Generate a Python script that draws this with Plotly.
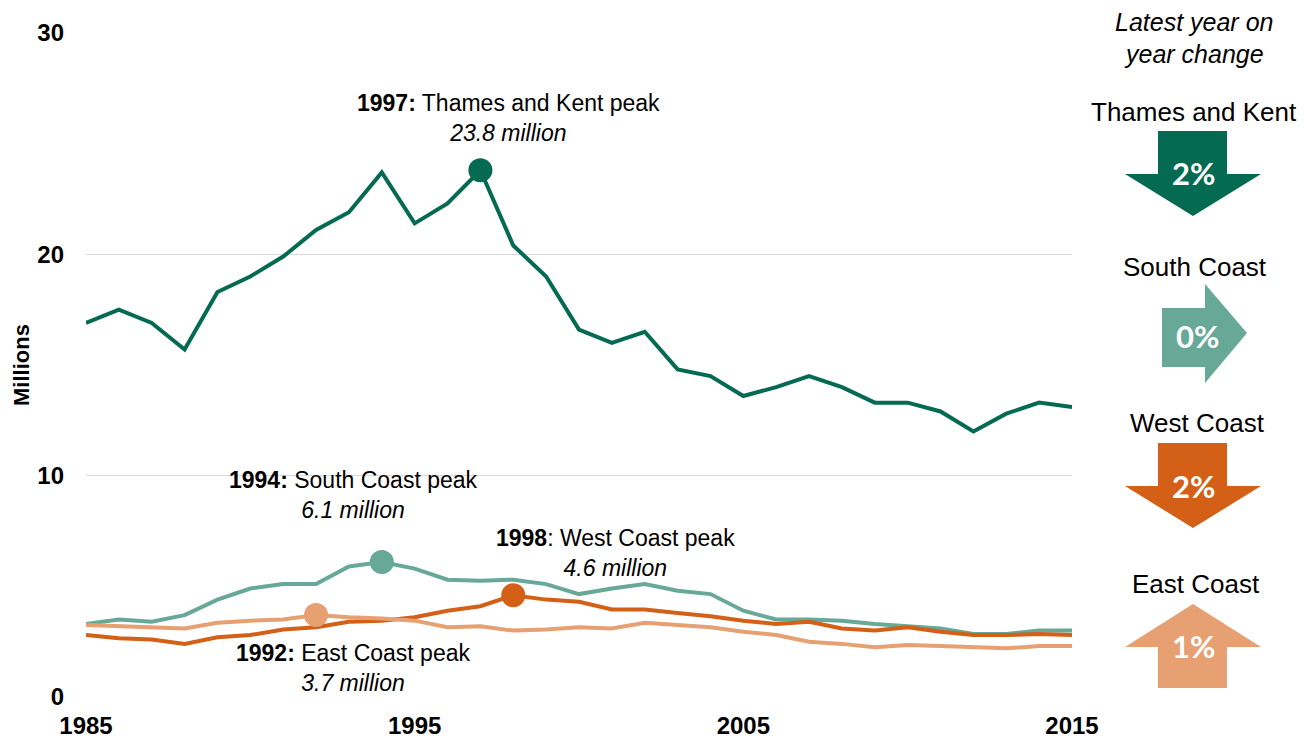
import plotly.graph_objects as go

years = list(range(1985, 2016))

thames_kent = [16.9, 17.5, 16.9, 15.7, 18.3, 19.0, 19.9, 21.1, 21.9, 23.7, 21.4, 22.3, 23.8,
               20.4, 19.0, 16.6, 16.0, 16.5, 14.8, 14.5, 13.6, 14.0, 14.5, 14.0, 13.3, 13.3,
               12.9, 12.0, 12.8, 13.3, 13.1]
south_coast = [3.3, 3.5, 3.4, 3.7, 4.4, 4.9, 5.1, 5.1, 5.9, 6.1, 5.8, 5.3, 5.25, 5.3, 5.1, 4.65,
               4.9, 5.1, 4.8, 4.65, 3.9, 3.5, 3.5, 3.45, 3.3, 3.2, 3.1, 2.85, 2.85, 3.0, 3.0]
west_coast = [2.8, 2.65, 2.6, 2.4, 2.7, 2.8, 3.05, 3.15, 3.4, 3.45, 3.6, 3.9, 4.1, 4.6, 4.4, 4.3,
              3.95, 3.95, 3.8, 3.65, 3.45, 3.3, 3.4, 3.1, 3.0, 3.15, 2.95, 2.8, 2.8, 2.85, 2.8]
east_coast = [3.25, 3.2, 3.15, 3.1, 3.35, 3.45, 3.5, 3.7, 3.6, 3.55, 3.45, 3.15, 3.2, 3.0, 3.05,
              3.15, 3.1, 3.35, 3.25, 3.15, 2.95, 2.8, 2.5, 2.4, 2.25, 2.35, 2.3, 2.25, 2.2, 2.3, 2.3]

series_names = ["Thames and Kent", "South Coast", "West Coast", "East Coast"]
series_values = [thames_kent, south_coast, west_coast, east_coast]
colors = ["#046A52", "#67A897", "#D45F16", "#E6A072"]
changes = ["2%", "0%", "2%", "1%"]
directions = ["down", "right", "down", "up"]

peak_titles = ["Thames and Kent peak", "South Coast peak", "West Coast peak", "East Coast peak"]
peak_subs = ["23.8 million", "6.1 million", "4.6 million", "3.7 million"]
tick_years = [1985, 1995, 2005, 2015]
tick_vals_y = [0, 10, 20, 30]
header_lines = ["Latest year on", "year change"]

# ---- page geometry (page has an 8px body margin) ----
OFF = 8
W, H = 1309 - OFF, 738 - OFF
PL, PR, PT, PB = 86, 1072, 33, 697          # plot area in page pixels
L, R, T, B = PL - OFF, W - (PR - OFF), PT - OFF, H - (PB - OFF)
pw, ph = PR - PL, PB - PT


def px(x):
    return (x - PL) / pw


def py(y):
    return (PB - y) / ph


FONT = "Liberation Sans, Arial, sans-serif"


def note(fig, x, y, text, size, color="#000000", family=FONT, angle=0, pad=1):
    fig.add_annotation(x=px(x), y=py(y), xref="paper", yref="paper", showarrow=False,
                       text=text, textangle=angle, align="center", borderpad=pad,
                       xanchor="center", yanchor="middle",
                       font=dict(family=family, size=size, color=color))


fig = go.Figure()

for name, vals, col in zip(series_names, series_values, colors):
    fig.add_trace(go.Scatter(x=years, y=vals, mode="lines", name=name,
                             line=dict(color=col, width=4), showlegend=False))

peak_years = []
for name, vals, col in zip(series_names, series_values, colors):
    i = vals.index(max(vals))
    peak_years.append(years[i])
    fig.add_trace(go.Scatter(x=[years[i]], y=[vals[i]], mode="markers",
                             marker=dict(color=col, size=24), showlegend=False,
                             name=name + " peak"))

# peak label centres in page pixels
label_px = [(508, 117.5), (353, 494.5), (615, 553), (353, 668)]
for k, ((lx, ly), yr, title, sub) in enumerate(zip(label_px, peak_years, peak_titles, peak_subs)):
    head = f"<b>{yr}</b>:" if k == 2 else f"<b>{yr}:</b>"
    note(fig, lx, ly, f"{head} {title}<br><i>{sub}</i>", 23)

# y-axis title
note(fig, 21, 365, "<b>Millions</b>", 22, angle=-90, pad=0)

# right-hand panel header
note(fig, 1194, 22, f"<i>{header_lines[0]}</i>", 25, pad=0)
note(fig, 1194, 54, f"<i>{header_lines[1]}</i>", 25, pad=0)

name_xy = [(1194, 112), (1195, 267), (1197, 423), (1196, 584)]
arrow_top = [131, 284, 443, 604]
pct_xy = [(1193, 173), (1197, 336), (1193, 486), (1193, 646)]
for k, (name, col, ch, d) in enumerate(zip(series_names, colors, changes, directions)):
    note(fig, name_xy[k][0], name_xy[k][1], name, 26)
    t = arrow_top[k]
    cx = 1193
    if d == "down":
        pts = [(1158, t), (1227, t), (1227, t + 43), (1261, t + 43), (cx, t + 85),
               (1125, t + 43), (1158, t + 43)]
    elif d == "up":
        pts = [(cx, t), (1261, t + 43), (1227, t + 43), (1227, t + 84), (1158, t + 84),
               (1158, t + 43), (1125, t + 43)]
    else:
        pts = [(1162, t + 24), (1205, t + 24), (1205, t), (1247, t + 49), (1205, t + 99),
               (1205, t + 83), (1162, t + 83)]
    path = "M " + " L ".join(f"{px(a):.5f},{py(b):.5f}" for a, b in pts) + " Z"
    fig.add_shape(type="path", path=path, xref="paper", yref="paper",
                  fillcolor=col, line=dict(width=0), layer="above")
    note(fig, pct_xy[k][0], pct_xy[k][1], f"<b>{ch}</b>", 31, color="#FFFFFF",
         family="Lato, Open Sans, sans-serif")

fig.update_layout(
    width=W, height=H,
    margin=dict(l=L, r=R, t=T, b=B, autoexpand=False),
    plot_bgcolor="#FFFFFF", paper_bgcolor="#FFFFFF",
    font=dict(family=FONT, color="#000000"),
    xaxis=dict(range=[1985, 2015], tickvals=tick_years,
               showgrid=False, zeroline=False, showline=False, ticks="", automargin=False,
               tickfont=dict(family=FONT, size=24, color="#000000", weight="bold"),
               ticklabelstandoff=12),
    yaxis=dict(range=[0, 30], tickvals=tick_vals_y, showgrid=True,
               gridcolor="#D9D9D9", gridwidth=1, zeroline=False, showline=False, ticks="",
               automargin=False,
               tickfont=dict(family=FONT, size=24, color="#000000", weight="bold"),
               ticklabelstandoff=21),
)

fig.write_html("out.html")
